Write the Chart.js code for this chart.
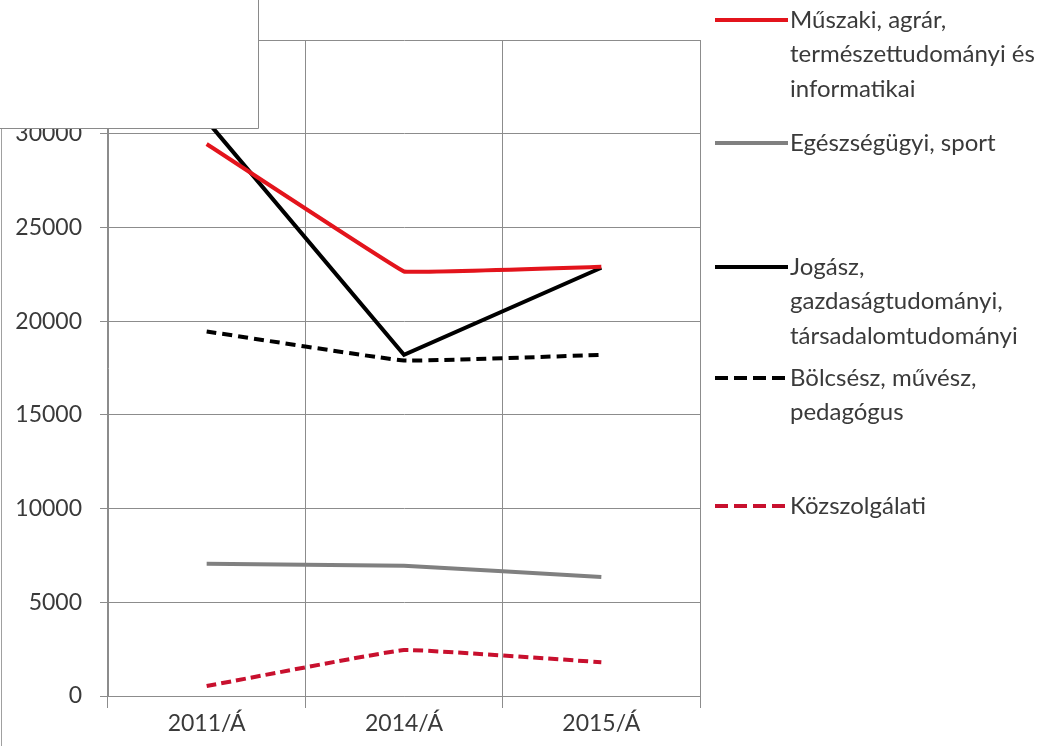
<!DOCTYPE html>
<html>
<head>
<meta charset="utf-8">
<script src="https://cdn.jsdelivr.net/npm/chart.js@4/dist/chart.umd.min.js"></script>
<style>
html,body{margin:0;padding:0;background:#fff;}
#wrap{width:1054px;height:746px;position:relative;}
</style>
</head>
<body>
<div id="wrap"><canvas id="c" width="1054" height="746"></canvas></div>
<script>
const categories = ["2011/Á", "2014/Á", "2015/Á"];
const seriesNames = [
  "Műszaki, agrár, természettudományi és informatikai",
  "Egészségügyi, sport",
  "Jogász, gazdaságtudományi, társadalomtudományi",
  "Bölcsész, művész, pedagógus",
  "Közszolgálati"
];
const legendLines = [
  ["Műszaki, agrár,", "természettudományi és", "informatikai"],
  ["Egészségügyi, sport"],
  ["Jogász,", "gazdaságtudományi,", "társadalomtudományi"],
  ["Bölcsész, művész,", "pedagógus"],
  ["Közszolgálati"]
];
const muszaki      = [29450, 22650, 22900];
const egeszseg     = [7050, 6950, 6350];
const jogasz       = [30700, 18200, 22850];
const bolcsesz     = [19450, 17900, 18200];
const kozszolgalat = [530, 2450, 1800];
const yTicks = [0, 5000, 10000, 15000, 20000, 25000, 30000, 35000];

const FONT = "Lato, 'Open Sans', sans-serif";
const TXT = "#3a3a3a";

const styles = [
  {color:"#e3141c", dash:[], tension:0.03},
  {color:"#808080", dash:[], tension:0.08},
  {color:"#000000", dash:[], tension:0},
  {color:"#000000", dash:[10,6], tension:0.08},
  {color:"#c8102e", dash:[10,5], tension:0.08}
];
const seriesData = [muszaki, egeszseg, jogasz, bolcsesz, kozszolgalat];

const legendY = [20, 143, 267, 378, 506];

const overlayPlugin = {
  id: "overlay",
  afterDraw(chart) {
    const ctx = chart.ctx;
    ctx.save();
    ctx.strokeStyle = "#a0a0a0";
    ctx.lineWidth = 1;
    ctx.beginPath();
    ctx.moveTo(1.5, 124);
    ctx.lineTo(1.5, 746);
    ctx.stroke();
    ctx.fillStyle = "#ffffff";
    ctx.fillRect(0, 0, 258, 128);
    ctx.strokeStyle = "#8a8a8a";
    ctx.beginPath();
    ctx.moveTo(258.5, 0);
    ctx.lineTo(258.5, 128.5);
    ctx.lineTo(0, 128.5);
    ctx.stroke();
    ctx.font = "24px " + FONT;
    ctx.textBaseline = "middle";
    ctx.textAlign = "left";
    legendLines.forEach((lines, i) => {
      const y = legendY[i];
      const st = styles[i];
      ctx.strokeStyle = st.color;
      ctx.lineWidth = 4;
      ctx.setLineDash(st.dash.length ? [13, 6] : []);
      ctx.beginPath();
      ctx.moveTo(715, y);
      ctx.lineTo(788, y);
      ctx.stroke();
      ctx.setLineDash([]);
      ctx.fillStyle = TXT;
      lines.forEach((t, k) => ctx.fillText(t, 790, y + k * 34.5));
    });
    ctx.restore();
  }
};

new Chart(document.getElementById("c"), {
  type: "line",
  data: {
    labels: categories,
    datasets: seriesData.map((d, i) => ({
      label: seriesNames[i],
      data: d,
      borderColor: styles[i].color,
      backgroundColor: styles[i].color,
      borderWidth: 4,
      borderDash: styles[i].dash,
      tension: styles[i].tension,
      pointRadius: 0,
      fill: false,
      borderCapStyle: "butt"
    }))
  },
  options: {
    responsive: false,
    animation: false,
    devicePixelRatio: 1,
    layout: {padding: {top: 40, right: 354, left: 0, bottom: 0}},
    plugins: {legend: {display: false}, tooltip: {enabled: false}, title: {display: false}},
    scales: {
      x: {
        offset: true,
        grid: {offset: true, color: "#8c8c8c", lineWidth: 1, tickLength: 12, drawTicks: true},
        border: {color: "#8c8c8c"},
        ticks: {font: {family: FONT, size: 23}, color: TXT, padding: 2, maxRotation: 0},
        afterFit(s) { s.height = 50; }
      },
      y: {
        min: 0, max: 35000,
        afterBuildTicks(s) { s.ticks = yTicks.map(v => ({value: v})); },
        grid: {color: "#8c8c8c", lineWidth: 1, tickLength: 8},
        border: {color: "#8c8c8c"},
        ticks: {font: {family: FONT, size: 23}, color: TXT, padding: 18, callback: v => String(v)},
        afterFit(s) { s.width = 108; }
      }
    }
  },
  plugins: [overlayPlugin]
});
</script>
</body>
</html>
